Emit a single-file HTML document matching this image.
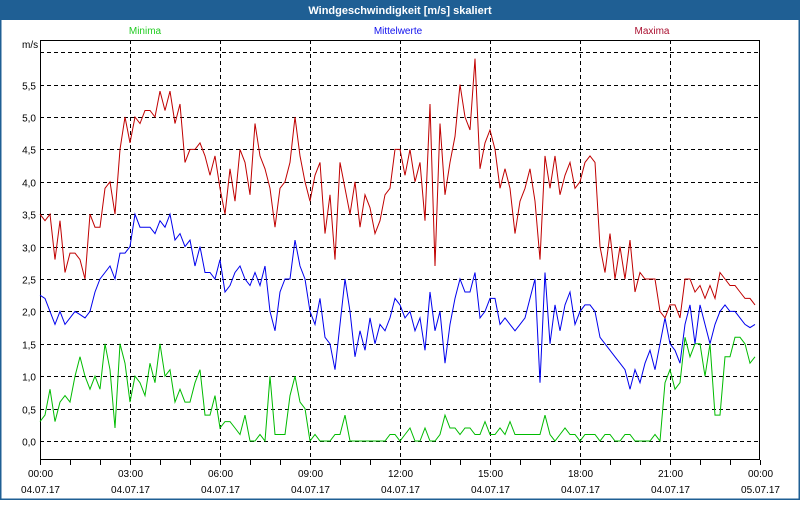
<!DOCTYPE html>
<html><head><meta charset="utf-8"><style>
body{margin:0;width:800px;height:500px;overflow:hidden;background:#fff;font-family:"Liberation Sans",Tahoma,sans-serif}
</style></head><body>
<svg id="s" width="800" height="500" xmlns="http://www.w3.org/2000/svg" font-family="Liberation Sans, sans-serif" font-size="10">
<rect x="0" y="0" width="800" height="500" fill="#fff"/>
<rect x="0.5" y="0.5" width="799" height="499" fill="none" stroke="#1f5f94" stroke-width="2"/>
<rect x="0" y="0" width="800" height="20" fill="#1f5f94"/>
<text x="400" y="14" fill="#fff" font-weight="bold" font-size="11" text-anchor="middle">Windgeschwindigkeit [m/s] skaliert</text>
<text x="145" y="34" fill="#22cc22" text-anchor="middle">Minima</text>
<text x="398" y="34" fill="#1010ee" text-anchor="middle">Mittelwerte</text>
<text x="652" y="34" fill="#aa1030" text-anchor="middle">Maxima</text>
<text x="22" y="48" fill="#000">m/s</text>
<g id="grid" stroke="#000" stroke-width="1" stroke-dasharray="4,3"></g>
<rect x="40.5" y="40.5" width="719" height="419" fill="none" stroke="#000"/>
<g id="lab" fill="#000"></g>
<polyline id="g" fill="none" stroke="#00bb00" stroke-width="1"/>
<polyline id="b" fill="none" stroke="#0000ee" stroke-width="1"/>
<polyline id="r" fill="none" stroke="#c00000" stroke-width="1"/>
</svg>
<script>
var ns="http://www.w3.org/2000/svg";
function el(p,t,a,txt){var e=document.createElementNS(ns,t);for(var k in a)e.setAttribute(k,a[k]);if(txt)e.textContent=txt;p.appendChild(e);return e;}
var g=document.getElementById('grid'),l=document.getElementById('lab'),s=document.getElementById('s');
function Y(v){return 441-v*64.8;}
for(var i=0;i<=12;i++){var y=Math.round(Y(i*0.5))+0.5;el(g,'line',{x1:40,x2:760,y1:y,y2:y});if(i<=11)el(l,'text',{x:36,y:y+4,'text-anchor':'end'},(i*0.5).toFixed(1).replace('.',','));}
var times=["00:00","03:00","06:00","09:00","12:00","15:00","18:00","21:00","00:00"];
for(var i=0;i<=8;i++){var x=40+i*90+0.5;if(i>0&&i<8)el(g,'line',{x1:x,x2:x,y1:40,y2:460});el(l,'text',{x:x,y:477,'text-anchor':'middle'},times[i]);el(l,'text',{x:x,y:493,'text-anchor':'middle'},i==8?"05.07.17":"04.07.17");}
for(var i=0;i<=24;i++){var x=40+i*30+0.5;el(s,'line',{x1:x,x2:x,y1:460,y2:465,stroke:'#000'});}
var R=[3.5,3.4,3.5,2.8,3.4,2.6,2.9,2.9,2.8,2.5,3.5,3.3,3.3,3.9,4.0,3.5,4.5,5.0,4.6,5.0,4.9,5.1,5.1,5.0,5.4,5.1,5.4,4.9,5.2,4.3,4.5,4.5,4.6,4.4,4.1,4.4,3.9,3.5,4.2,3.7,4.5,4.3,3.8,4.9,4.4,4.2,3.9,3.3,3.9,4.0,4.3,5.0,4.4,4.0,3.7,4.1,4.3,3.2,3.8,2.8,4.3,3.9,3.5,4.0,3.3,3.8,3.6,3.2,3.4,3.8,3.9,4.5,4.5,4.1,4.5,4.0,4.3,3.4,5.2,2.7,4.9,3.8,4.3,4.7,5.5,5.0,4.8,5.9,4.2,4.6,4.8,4.5,3.9,4.2,3.9,3.2,3.7,3.9,4.2,3.7,2.8,4.4,3.9,4.4,3.8,4.1,4.3,3.9,4.0,4.3,4.4,4.3,3.0,2.6,3.2,2.5,3.0,2.5,3.1,2.3,2.6,2.5,2.5,2.5,2.0,1.9,2.1,2.1,1.9,2.5,2.5,2.3,2.4,2.2,2.4,2.2,2.6,2.5,2.4,2.4,2.3,2.2,2.2,2.1];
var B=[2.25,2.2,2.0,1.8,2.0,1.8,1.9,2.0,1.95,1.9,2.0,2.3,2.5,2.6,2.7,2.5,2.9,2.9,3.0,3.5,3.3,3.3,3.3,3.2,3.4,3.3,3.5,3.1,3.2,3.0,3.1,2.7,3.0,2.6,2.6,2.5,2.8,2.3,2.4,2.6,2.7,2.5,2.4,2.6,2.4,2.7,2.0,1.7,2.3,2.5,2.5,3.1,2.7,2.5,2.0,1.8,2.2,1.6,1.5,1.1,1.8,2.5,2.0,1.3,1.7,1.4,1.9,1.5,1.8,1.7,1.9,2.2,2.1,1.9,2.0,1.7,1.9,1.4,2.3,1.7,2.0,1.2,1.8,2.2,2.5,2.3,2.3,2.6,1.9,2.0,2.2,2.2,1.8,1.9,1.8,1.7,1.8,1.9,2.2,2.5,0.9,2.6,1.5,2.1,1.7,2.1,2.3,1.8,2.0,2.1,2.1,2.0,1.6,1.5,1.4,1.3,1.2,1.1,0.8,1.1,0.9,1.2,1.4,1.1,1.5,1.9,1.5,1.4,1.2,1.8,2.1,1.5,2.1,1.8,1.5,1.8,2.0,2.1,2.0,2.0,1.9,1.8,1.75,1.8];
var G=[0.3,0.4,0.8,0.3,0.6,0.7,0.6,1.0,1.3,1.0,0.8,1.0,0.8,1.5,1.1,0.2,1.5,1.2,0.6,1.0,0.9,0.7,1.2,0.9,1.5,1.0,1.1,0.6,0.8,0.6,0.6,0.9,1.1,0.4,0.4,0.7,0.2,0.3,0.3,0.2,0.1,0.4,0.0,0.0,0.1,0.0,1.0,0.1,0.1,0.1,0.7,1.0,0.6,0.5,0.0,0.1,0.0,0.0,0.0,0.1,0.1,0.4,0.0,0.0,0.0,0.0,0.0,0.0,0.0,0.0,0.1,0.1,0.0,0.1,0.2,0.0,0.0,0.2,0.0,0.0,0.1,0.4,0.2,0.2,0.1,0.2,0.2,0.1,0.1,0.3,0.1,0.1,0.2,0.1,0.3,0.1,0.1,0.1,0.1,0.1,0.1,0.4,0.1,0.0,0.1,0.2,0.1,0.1,0.0,0.1,0.1,0.1,0.0,0.1,0.1,0.0,0.0,0.1,0.1,0.0,0.0,0.0,0.0,0.1,0.0,0.9,1.1,0.8,0.9,1.6,1.3,1.5,1.5,1.0,1.5,0.4,0.4,1.3,1.3,1.6,1.6,1.5,1.2,1.3];
function pts(a){return a.map(function(v,i){return (40+i*5)+","+Y(v).toFixed(1);}).join(" ");}
document.getElementById('r').setAttribute('points',pts(R));
document.getElementById('b').setAttribute('points',pts(B));
document.getElementById('g').setAttribute('points',pts(G));
</script>
</body></html>
